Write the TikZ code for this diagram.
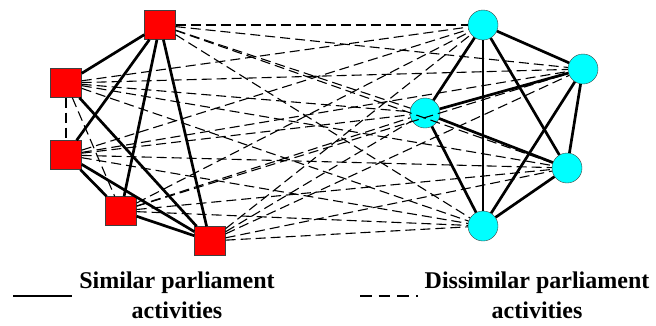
\documentclass[tikz,border=0pt]{standalone}
\usepackage{fontspec}
\setmainfont{Liberation Serif}
\usepackage{tikz}
\usepackage{xcolor}
\usetikzlibrary{positioning}

\definecolor{membred}{RGB}{255,0,0}
\definecolor{partycyan}{RGB}{0,255,255}

\begin{document}
\begin{tikzpicture}[x=1pt, y=-1pt]
    \tikzstyle{member} = [rectangle, minimum width=31pt, minimum height=29pt, inner sep=0pt, draw=black!75, fill=membred]
    \tikzstyle{party} = [circle, minimum size=30pt, inner sep=0pt, draw=black!75, fill=partycyan]
    \tikzstyle{sim} = [line width=2.7pt]
    \tikzstyle{dissim} = [line width=1.1pt, dash pattern=on 10pt off 5pt]
    \tikzstyle{legtext} = [align=center, anchor=north, inner sep=0pt, font=\fontsize{24}{30}\selectfont\bfseries]

    \useasboundingbox (0,0) rectangle (656,325);

    % left group
    \node (s1) [member] at (160,25) {};
    \node (s2) [member] at (66,83) {};
    \node (s3) [member] at (66,155) {};
    \node (s4) [member] at (121,211) {};
    \node (s5) [member] at (210,241) {};

    % right group
    \node (c1) [party] at (483,25) {};
    \node (c2) [party] at (583,69) {};
    \node (c3) [party] at (425,113) {};
    \node (c4) [party] at (567,168) {};
    \node (c5) [party] at (483,226) {};

    % similar, left
    \draw [sim] (s1) -- (s2);
    \draw [sim] (s1) -- (s3);
    \draw [sim] (s1) -- (s4);
    \draw [sim] (s1) -- (s5);
    \draw [sim] (s2) -- (s5);
    \draw [sim] (s3) -- (s4);
    \draw [sim] (s3) -- (s5);
    \draw [sim] (s4) -- (s5);
    \draw [dissim] (s2) -- (s3);
    \draw [dissim] (s2) -- (s4);

    % similar, right
    \draw [sim] (c1) -- (c2);
    \draw [sim] (c1) -- (c3);
    \draw [sim] (c1) -- (c4);
    \draw [sim] (c1) -- (c5);
    \draw [sim] (c2) -- (c3);
    \draw [sim] (c2) -- (c4);
    \draw [sim] (c2) -- (c5);
    \draw [sim] (c3) -- (c4);
    \draw [sim] (c3) -- (c5);
    \draw [sim] (c4) -- (c5);

    % dissimilar, across
    \draw [dissim] (s1) -- (c1);
    \draw [dissim] (s1) -- (c2);
    \draw [dissim] (s1) -- (c3);
    \draw [dissim] (s1) -- (c4);
    \draw [dissim] (s1) -- (c5);
    \draw [dissim] (s2) -- (c1);
    \draw [dissim] (s2) -- (c2);
    \draw [dissim] (s2) -- (c3);
    \draw [dissim] (s2) -- (c4);
    \draw [dissim] (s2) -- (c5);
    \draw [dissim] (s3) -- (c1);
    \draw [dissim] (s3) -- (c2);
    \draw [dissim] (s3) -- (c3);
    \draw [dissim] (s3) -- (c4);
    \draw [dissim] (s3) -- (c5);
    \draw [dissim] (s4) -- (c1);
    \draw [dissim] (s4) -- (c2);
    \draw [dissim] (s4) -- (c3);
    \draw [dissim] (s4) -- (c4);
    \draw [dissim] (s4) -- (c5);
    \draw [dissim] (s5) -- (c1);
    \draw [dissim] (s5) -- (c2);
    \draw [dissim] (s5) -- (c3);
    \draw [dissim] (s5) -- (c4);
    \draw [dissim] (s5) -- (c5);

    % legend
    \coordinate (simA) at (13,296);
    \coordinate (simB) at (72,296);
    \coordinate (disA) at (360,296);
    \coordinate (disB) at (418,296);
    \draw [line width=2.3pt] (simA) -- (simB);
    \draw [line width=1.7pt, dash pattern=on 11.7pt off 7pt] (disA) -- (disB);
    \node (simtext) [legtext] at (177,272) {Similar parliament\\activities};
    \node (distext) [legtext] at (537,272) {Dissimilar parliament\\activities};
\end{tikzpicture}
\end{document}
